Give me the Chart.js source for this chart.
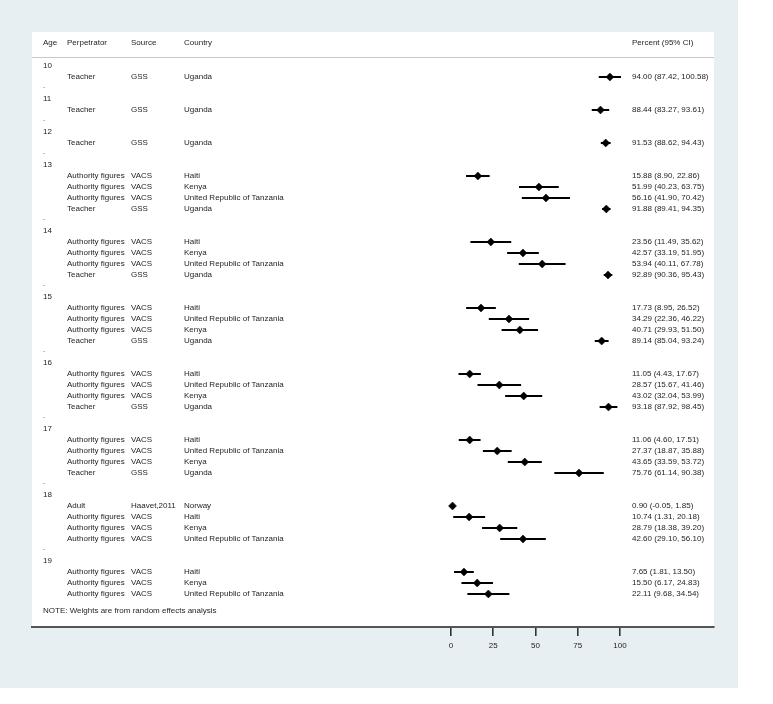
<!DOCTYPE html>
<html>
<head>
<meta charset="utf-8">
<script src="https://cdn.jsdelivr.net/npm/chart.js@4/dist/chart.umd.min.js"></script>
<style>
  html, body { margin: 0; padding: 0; background: #fff; }
  #wrap { width: 773px; height: 704px; }
</style>
</head>
<body>
<div id="wrap"><canvas id="forest" width="773" height="704"></canvas></div>
<script>
// one entry per study row, in the order they appear
var ages = [10, 11, 12,
    13, 13, 13, 13,
    14, 14, 14, 14,
    15, 15, 15, 15,
    16, 16, 16, 16,
    17, 17, 17, 17,
    18, 18, 18, 18,
    19, 19, 19];
var perpetrators = ["Teacher", "Teacher", "Teacher",
    "Authority figures", "Authority figures", "Authority figures", "Teacher",
    "Authority figures", "Authority figures", "Authority figures", "Teacher",
    "Authority figures", "Authority figures", "Authority figures", "Teacher",
    "Authority figures", "Authority figures", "Authority figures", "Teacher",
    "Authority figures", "Authority figures", "Authority figures", "Teacher",
    "Adult", "Authority figures", "Authority figures", "Authority figures",
    "Authority figures", "Authority figures", "Authority figures"];
var sources = ["GSS", "GSS", "GSS",
    "VACS", "VACS", "VACS", "GSS",
    "VACS", "VACS", "VACS", "GSS",
    "VACS", "VACS", "VACS", "GSS",
    "VACS", "VACS", "VACS", "GSS",
    "VACS", "VACS", "VACS", "GSS",
    "Haavet,2011", "VACS", "VACS", "VACS",
    "VACS", "VACS", "VACS"];
var countries = ["Uganda", "Uganda", "Uganda",
    "Haiti", "Kenya", "United Republic of Tanzania", "Uganda",
    "Haiti", "Kenya", "United Republic of Tanzania", "Uganda",
    "Haiti", "United Republic of Tanzania", "Kenya", "Uganda",
    "Haiti", "United Republic of Tanzania", "Kenya", "Uganda",
    "Haiti", "United Republic of Tanzania", "Kenya", "Uganda",
    "Norway", "Haiti", "Kenya", "United Republic of Tanzania",
    "Haiti", "Kenya", "United Republic of Tanzania"];
var estimates = [94.00, 88.44, 91.53,
    15.88, 51.99, 56.16, 91.88,
    23.56, 42.57, 53.94, 92.89,
    17.73, 34.29, 40.71, 89.14,
    11.05, 28.57, 43.02, 93.18,
    11.06, 27.37, 43.65, 75.76,
    0.90, 10.74, 28.79, 42.60,
    7.65, 15.50, 22.11];
var lower = [87.42, 83.27, 88.62,
    8.90, 40.23, 41.90, 89.41,
    11.49, 33.19, 40.11, 90.36,
    8.95, 22.36, 29.93, 85.04,
    4.43, 15.67, 32.04, 87.92,
    4.60, 18.87, 33.59, 61.14,
    -0.05, 1.31, 18.38, 29.10,
    1.81, 6.17, 9.68];
var upper = [100.58, 93.61, 94.43,
    22.86, 63.75, 70.42, 94.35,
    35.62, 51.95, 67.78, 95.43,
    26.52, 46.22, 51.50, 93.24,
    17.67, 41.46, 53.99, 98.45,
    17.51, 35.88, 53.72, 90.38,
    1.85, 20.18, 39.20, 56.10,
    13.50, 24.83, 34.54];
var xTicks = [0, 25, 50, 75, 100];
var headers = ["Age", "Perpetrator", "Source", "Country", "Percent (95% CI)"];
var note = "NOTE: Weights are from random effects analysis";

var FONT = '8px "Liberation Sans", Arial, sans-serif';
var colX = [43, 67, 131, 184, 632];   // text column positions (px)

// lay out rows: age header, its studies, then a "." spacer row
var rows = [];        // {kind, text..., study index}
var studyRow = [];
var r = 0;
for (var i = 0; i < ages.length; i++) {
    if (i === 0 || ages[i] !== ages[i - 1]) {
        if (i > 0) { rows.push({ kind: "dot", row: r }); r++; }
        rows.push({ kind: "age", row: r, text: String(ages[i]) });
        r++;
    }
    studyRow.push(r);
    rows.push({ kind: "study", row: r, idx: i });
    r++;
}
var lastRow = r - 1;

var points = [];
var ciLines = [];
for (var j = 0; j < estimates.length; j++) {
    points.push({ x: estimates[j], y: studyRow[j] });
    ciLines.push({ x: lower[j], y: studyRow[j] });
    ciLines.push({ x: upper[j], y: studyRow[j] });
    ciLines.push({ x: null, y: null });
}

function ciText(k) {
    return estimates[k].toFixed(2) + " (" + lower[k].toFixed(2) + ", " + upper[k].toFixed(2) + ")";
}

var backdrop = {
    id: "backdrop",
    beforeDraw: function(chart) {
        var c = chart.ctx, a = chart.chartArea;
        c.save();
        c.fillStyle = "#ffffff";
        c.fillRect(0, 0, chart.width, chart.height);
        c.fillStyle = "#e8eff2";
        c.fillRect(0, 0, 738, 688);
        c.fillStyle = "#ffffff";
        c.fillRect(a.left, a.top, a.right - a.left, a.bottom - a.top);
        c.restore();
    }
};

var tableText = {
    id: "tableText",
    afterDatasetsDraw: function(chart) {
        var c = chart.ctx, a = chart.chartArea, ys = chart.scales.y;
        c.save();
        c.font = FONT;
        c.fillStyle = "#1e1e1e";
        c.textBaseline = "middle";
        c.textAlign = "left";
        var hy = ys.getPixelForValue(-2.1);
        for (var h = 0; h < headers.length; h++) {
            c.fillText(headers[h], colX[h], hy);
        }
        // header rule
        var ly = Math.round(ys.getPixelForValue(-0.82)) + 0.5;
        c.strokeStyle = "#c8c8c8";
        c.lineWidth = 1;
        c.beginPath();
        c.moveTo(a.left, ly);
        c.lineTo(a.right, ly);
        c.stroke();

        for (var k = 0; k < rows.length; k++) {
            var row = rows[k];
            var y = ys.getPixelForValue(row.row);
            if (row.kind === "age") {
                c.fillText(row.text, colX[0], y);
            } else if (row.kind === "dot") {
                c.fillText(".", colX[0], y - 2);
            } else {
                var n = row.idx;
                c.fillText(perpetrators[n], colX[1], y);
                c.fillText(sources[n], colX[2], y);
                c.fillText(countries[n], colX[3], y);
                c.fillText(ciText(n), colX[4], y);
            }
        }
        c.fillText(note, colX[0], ys.getPixelForValue(lastRow + 1.5));
        c.restore();
    }
};

var ctx = document.getElementById("forest").getContext("2d");

var forestChart = new Chart(ctx, {
    type: "scatter",
    data: {
        datasets: [
            {
                data: points,
                pointStyle: "rectRot",
                pointRadius: 4,
                pointBackgroundColor: "#000",
                pointBorderColor: "#000",
                pointBorderWidth: 0.5
            },
            {
                data: ciLines,
                showLine: true,
                spanGaps: false,
                borderColor: "#000",
                borderWidth: 2.2,
                pointRadius: 0
            }
        ]
    },
    options: {
        responsive: false,
        animation: false,
        devicePixelRatio: 1,
        layout: { padding: { left: 32, top: 32, right: 59, bottom: 37 } },
        plugins: {
            legend: { display: false },
            tooltip: { enabled: false }
        },
        scales: {
            x: {
                type: "linear",
                position: "bottom",
                min: -247.9,
                max: 155.6,
                afterBuildTicks: function(scale) {
                    scale.ticks = xTicks.map(function(v) { return { value: v }; });
                },
                afterFit: function(scale) { scale.height = 40; },
                grid: {
                    drawOnChartArea: false,
                    drawTicks: true,
                    tickLength: 9,
                    color: "#333",
                    lineWidth: 1.6
                },
                border: { display: true, color: "#555", width: 2 },
                ticks: {
                    color: "#1e1e1e",
                    padding: 5,
                    maxRotation: 0,
                    font: { family: '"Liberation Sans", Arial, sans-serif', size: 8 }
                }
            },
            y: {
                type: "linear",
                display: false,
                reverse: true,
                min: -3.09,
                max: 51.0
            }
        }
    },
    plugins: [backdrop, tableText]
});
</script>
</body>
</html>
